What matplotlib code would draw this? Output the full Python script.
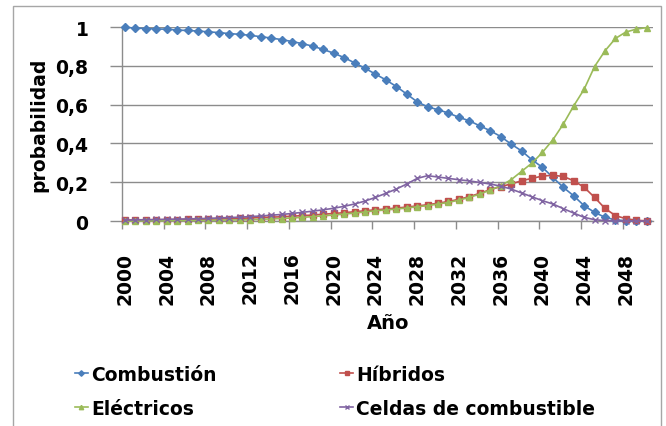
import matplotlib
matplotlib.use('Agg')
from matplotlib import pyplot as plt
from matplotlib.patches import Rectangle

# probabilidad de cada tecnología por año
years = list(range(2000, 2051))

combustion = [1.0, 0.995, 0.993, 0.99, 0.99, 0.985, 0.983, 0.98, 0.976, 0.972,
              0.967, 0.963, 0.958, 0.951, 0.944, 0.936, 0.926, 0.915, 0.902, 0.885,
              0.866, 0.843, 0.816, 0.788, 0.758, 0.728, 0.694, 0.655, 0.615, 0.589,
              0.574, 0.557, 0.535, 0.517, 0.491, 0.466, 0.436, 0.397, 0.362, 0.316,
              0.277, 0.225, 0.174, 0.130, 0.079, 0.045, 0.019, 0.006, 0.002, 0.001,
              0.0]

hibridos = [0.005, 0.005, 0.006, 0.006, 0.007, 0.007, 0.008, 0.009, 0.01, 0.011,
            0.012, 0.014, 0.016, 0.018, 0.02, 0.022, 0.025, 0.028, 0.031, 0.035,
            0.039, 0.043, 0.048, 0.053, 0.058, 0.062, 0.067, 0.072, 0.078, 0.084,
            0.092, 0.101, 0.112, 0.126, 0.143, 0.162, 0.178, 0.191, 0.208, 0.220,
            0.232, 0.236, 0.230, 0.208, 0.174, 0.122, 0.065, 0.028, 0.012, 0.004,
            0.001]

electricos = [0.0, 0.0, 0.001, 0.001, 0.001, 0.002, 0.002, 0.003, 0.003, 0.004,
              0.005, 0.006, 0.007, 0.009, 0.011, 0.013, 0.016, 0.019, 0.023, 0.027,
              0.031, 0.036, 0.041, 0.047, 0.053, 0.057, 0.062, 0.067, 0.074, 0.079,
              0.088, 0.096, 0.108, 0.122, 0.139, 0.160, 0.182, 0.213, 0.256, 0.299,
              0.354, 0.419, 0.500, 0.594, 0.680, 0.797, 0.878, 0.942, 0.975, 0.99,
              0.998]

celdas = [0.005, 0.006, 0.007, 0.008, 0.009, 0.01, 0.011, 0.012, 0.014, 0.016,
          0.018, 0.02, 0.023, 0.026, 0.03, 0.034, 0.039, 0.045, 0.051, 0.058,
          0.066, 0.076, 0.088, 0.103, 0.122, 0.143, 0.165, 0.191, 0.220, 0.234,
          0.227, 0.220, 0.213, 0.207, 0.199, 0.191, 0.180, 0.165, 0.145, 0.125,
          0.105, 0.088, 0.064, 0.041, 0.019, 0.007, 0.002, 0.0, 0.0, 0.0,
          0.0]

x_ticks = list(range(2000, 2049, 4))
y_ticks = [0, 0.2, 0.4, 0.6, 0.8, 1]
y_labels = ['0', '0,2', '0,4', '0,6', '0,8', '1']

FS = 13.5
GRAY = '#8c8c8c'

fig = plt.figure(figsize=(6.66, 4.27), dpi=100)
ax = fig.add_axes([0.183, 0.480, 0.7975, 0.454])

series = [
    (combustion, 'Combustión', '#4a7ebb', 'D', 4.0),
    (hibridos, 'Híbridos', '#c0504d', 's', 4.5),
    (electricos, 'Eléctricos', '#9bbb59', '^', 4.5),
    (celdas, 'Celdas de combustible', '#8064a2', 'x', 4.5),
]
lines = {}
for vals, name, col, mk, ms in series:
    ln, = ax.plot(years, vals, color=col, lw=1.2, marker=mk, markersize=ms,
                  markeredgewidth=1.0, label=name, clip_on=False, zorder=3)
    lines[name] = ln

ax.set_xlim(1999.7, 2050.6)
ax.set_ylim(0, 1)

# ejes y cuadricula
for s in ['top', 'right']:
    ax.spines[s].set_visible(False)
for s in ['left', 'bottom']:
    ax.spines[s].set_color(GRAY)
    ax.spines[s].set_linewidth(1.0)
ax.set_yticks(y_ticks)
ax.set_yticklabels(y_labels, fontsize=FS, fontweight='bold')
ax.yaxis.grid(True, color=GRAY, lw=1.0)
ax.set_axisbelow(True)
ax.tick_params(axis='y', length=9, width=1, color=GRAY, pad=15)

# marcas entre categorías, etiquetas centradas en el año
ax.set_xticks([t - 0.3 for t in x_ticks], minor=True)
ax.set_xticks(x_ticks)
ax.set_xticklabels([str(t) for t in x_ticks], rotation=90, fontsize=FS,
                   fontweight='bold')
ax.tick_params(axis='x', which='major', length=0, pad=22)
ax.tick_params(axis='x', which='minor', length=6, width=1, color=GRAY)

fig.text(39 / 666, 1 - 125 / 427, 'probabilidad', rotation=90, ha='center',
         va='center', fontsize=FS, fontweight='bold')
fig.text(388 / 666, 1 - 324 / 427, 'Año', ha='center', va='center',
         fontsize=FS + 0.5, fontweight='bold')

order = ['Combustión', 'Eléctricos', 'Híbridos', 'Celdas de combustible']
leg = fig.legend([lines[n] for n in order], order, ncol=2, loc='upper left',
                 bbox_to_anchor=(58 / 666, 1 - 349 / 427), frameon=False,
                 prop={'size': FS, 'weight': 'bold'}, handlelength=0.7,
                 handletextpad=0.15, columnspacing=6.6, labelspacing=0.8,
                 markerscale=0.7)

# marco del grafico
fig.patches.append(Rectangle((13 / 666, -0.05), (661 - 13) / 666, 1 - 7 / 427 + 0.05,
                             transform=fig.transFigure, fill=False,
                             edgecolor='#a6a6a6', lw=1.0))

fig.savefig('out.png', dpi=100)
